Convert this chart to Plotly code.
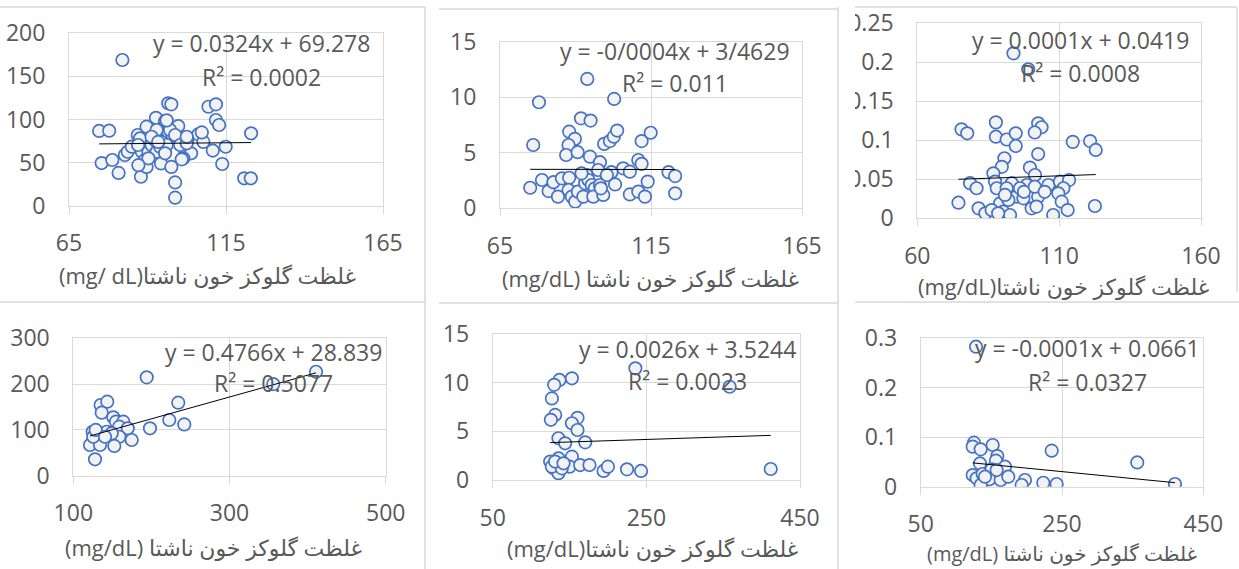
import numpy as np
import plotly.graph_objects as go

W, H = 1239, 569

# ---------------- data ----------------
x1 = [82.0, 74.6, 77.8, 75.4, 78.8, 80.8, 82.8, 83.7, 85, 86.9, 87.6, 89.7, 88.2, 89.2, 87.9, 89.7,
      90.3, 91.3, 92.7, 94, 95.6, 94.7, 95.4, 94.3, 96.6, 97.6, 96.6, 97.9, 99.8, 97.6, 98.8, 98.8,
      101.9, 103.9, 102.8, 106.2, 107.8, 110.8, 109.4, 111.8, 111.8, 112.8, 113.8, 114.9, 123, 120.8,
      122.9, 92.4, 92.9, 94, 96.1, 97.2, 98.8, 100.4, 101.4, 102.5, 90.3, 87, 92.9, 91.3, 107.3, 95.6,
      93.4, 96.1, 100.9, 87.1, 102.5]
y1 = [169, 86.7, 87, 49.5, 53, 38, 58.8, 62.6, 68.5, 82, 78, 91.7, 62.6, 53, 33.6, 45,
      62.6, 70.4, 102, 85, 98, 74, 67, 49, 118.8, 117.6, 86, 82, 92.4, 45, 27, 9.3,
      58.8, 60.8, 78, 82.8, 74, 64, 114.8, 117.6, 99.4, 93.6, 48.4, 68.4, 84, 31.8,
      31.8, 76, 62.6, 68.5, 70.4, 87.8, 82, 70.4, 55, 72.4, 55, 70.4, 87.8, 80, 85, 60.8,
      74, 99, 53.8, 47, 80]

x2 = [93.9, 77.9, 102.8, 91.8, 95, 76, 87.9, 89.8, 87.7, 86.9, 90.7, 94.8, 98.1, 99.5, 101.4, 102.7,
      103.8, 111.9, 114.9, 110.8, 111.9, 105.8, 108, 101.9, 98.1, 96.4, 93.7, 75, 78.9, 81.1, 82.7,
      84.2, 85.5, 87.9, 87.7, 88.8, 89.9, 90.8, 92.6, 93.2, 94.3, 95.4, 96.4, 95.9, 98.1, 99.2, 103.1,
      108, 110.8, 113, 113.9, 120.8, 123, 123, 97.5, 92, 100.4, 98.4]
y2 = [11.65, 9.55, 9.85, 8.1, 7.9, 5.7, 6.9, 6.25, 5.7, 4.8, 5.05, 4.65, 4.15, 5.8, 6.05, 6.45,
      7.0, 6.05, 6.8, 4.35, 4.0, 3.6, 3.3, 3.25, 3.25, 2.7, 3.0, 1.85, 2.55, 1.55, 2.35,
      1.05, 2.7, 2.75, 1.65, 1.05, 0.6, 1.5, 1.05, 2.25, 2.55, 2.1, 1.8, 1.05, 2.1, 1.2, 2.15,
      1.25, 1.5, 1.05, 2.4, 3.25, 2.9, 1.35, 3.45, 3.15, 3.0, 1.8]

x3 = [93.9, 99.1, 75.6, 77.6, 87.7, 87.7, 91.5, 94.7, 94.7, 102.6, 103.8, 101.4, 114.8, 120.9, 122.9,
      102.6, 90.7, 89.8, 86.8, 99.7, 101.5, 78.6, 80.9, 87.4, 88, 93.3, 98.6, 106.2, 110.3, 113.5,
      111.5, 109.7, 74.5, 81.6, 84, 89.2, 90.3, 92.7, 93.3, 95, 97.4, 100.3, 102.6, 107.9, 110.9,
      113, 122.6, 91.5, 96.2, 92.1, 97.6, 101.4, 104.9, 90.9, 86.2, 88.5, 102]
y3 = [0.2115, 0.191, 0.114, 0.109, 0.123, 0.1046, 0.101, 0.109, 0.0927, 0.1218, 0.1167, 0.11, 0.098,
      0.099, 0.0876, 0.0824, 0.077, 0.066, 0.0577, 0.065, 0.0555, 0.045, 0.0385, 0.047, 0.0385,
      0.045, 0.0427, 0.0427, 0.047, 0.049, 0.0385, 0.032, 0.02, 0.0128, 0.0064, 0.0192, 0.0085,
      0.0042, 0.032, 0.0277, 0.0256, 0.0128, 0.0277, 0.0042, 0.0213, 0.0106, 0.0158, 0.0385,
      0.0385, 0.0235, 0.034, 0.0405, 0.034, 0.03, 0.0106, 0.0064, 0.015]

x4 = [194, 410.8, 356, 234.4, 222.9, 242.1, 198.2, 135, 143.5, 136.4, 151.2, 154.7, 164, 158.9, 169.7,
      158.9, 174.8, 152.5, 127.8, 124.8, 130.7, 134.2, 124.8, 121.4, 134.2, 142.8, 149.2, 125.6,
      128.7, 140.6]
y4 = [214.8, 227, 200, 159.4, 121.6, 112, 103.5, 154.4, 161.6, 137.6, 127.5, 118, 118, 107, 103.5,
      85, 78, 65, 35.8, 96, 96, 85, 74, 67, 67, 96, 92.5, 85, 100, 85]

x5 = [235.7, 358.4, 411.9, 153.1, 136.9, 130, 127, 131.3, 125.7, 160.4, 153.1, 160.4, 135.6, 144.3,
      170.4, 124.8, 129.2, 135.6, 135.6, 153.1, 150, 163.9, 176, 194.3, 200, 224.8, 243.1, 127, 140,
      131.3, 142.2]
y5 = [11.5, 9.6, 1.13, 10.47, 10.3, 9.8, 8.4, 6.7, 6.2, 6.4, 5.84, 5.15, 4.3, 3.78, 3.88, 1.9, 1.2,
      2.23, 0.7, 2.4, 1.37, 1.54, 1.54, 0.93, 1.37, 1.1, 0.93, 1.37, 1.2, 1.9, 1.72]

x6 = [128.3, 235.4, 356.5, 409.9, 125.4, 123.6, 134.9, 151.9, 158.4, 156.5, 169.3, 133.9, 123.6, 129.2,
      137.7, 150.5, 147.1, 163.2, 174, 134.9, 197.6, 192.9, 223.5, 242.4, 141, 157.5]
y6 = [0.283, 0.0728, 0.049, 0.0055, 0.089, 0.081, 0.0755, 0.0843, 0.062, 0.0526, 0.0404, 0.047,
      0.0236, 0.017, 0.0257, 0.035, 0.015, 0.0135, 0.0202, 0.0034, 0.0135, 0.0034, 0.008, 0.0055,
      0.0202, 0.0337]

# trendline slope / intercept as drawn
slopes = [0.0324, -0.0004, 0.000124, 0.4766, 0.0026, -0.00014]
intercepts = [69.278, 3.54, 0.0408, 28.839, 3.5244, 0.0655]

equations = ["y = 0.0324x + 69.278", "y = -0/0004x + 3/4629", "y = 0.0001x + 0.0419",
             "y = 0.4766x + 28.839", "y = 0.0026x + 3.5244", "y = -0.0001x + 0.0661"]
r2_labels = ["R² = 0.0002", "R² = 0.011", "R² = 0.0008",
             "R² = 0.5077", "R² = 0.0023", "R² = 0.0327"]

x_ticks = [[65, 115, 165], [65, 115, 165], [60, 110, 160],
           [100, 300, 500], [50, 250, 450], [50, 250, 450]]
y_ticks = [[0, 50, 100, 150, 200], [0, 5, 10, 15], [0, 0.05, 0.1, 0.15, 0.2, 0.25],
           [0, 100, 200, 300], [0, 5, 10, 15], [0, 0.1, 0.2, 0.3]]
y_ticktext = [["0", "50", "100", "150", "200"], ["0", "5", "10", "15"],
              ["0", "0.05", "0.1", "0.15", "0.2", "0.25"],
              ["0", "100", "200", "300"], ["0", "5", "10", "15"], ["0", "0.1", "0.2", "0.3"]]

persian = "غلظت گلوکز خون ناشتا"
x_titles = ["(mg/ dL)" + persian, "(mg/dL) " + persian, "(mg/dL)" + persian,
            "(mg/dL) " + persian, "(mg/dL)" + persian, "(mg/dL) " + persian]

xs_all = [x1, x2, x3, x4, x5, x6]
ys_all = [y1, y2, y3, y4, y5, y6]

# ---------------- layout geometry (pixels) ----------------
boxes = [(69, 383, 33.3, 205.7), (500, 802, 41.7, 208.3), (917.3, 1201, 23.3, 218.3),
         (73.3, 385.7, 338.3, 475.7), (492.7, 800, 334.3, 480), (920.7, 1203.3, 338.3, 486.7)]
eq_pos = [(261, 43, 77), (675, 51, 83), (1080, 40, 73), (273, 352, 383), (687, 349, 381), (1087, 348, 382)]
title_pos = [(207, 275, 22), (650, 278, 22), (1063, 286, 22), (213, 547, 22), (652, 548, 22), (1062, 553, 20)]

def px(v):
    return v / W

def py(v):
    return 1 - v / H

FONT = "Open Sans, DejaVu Sans, sans-serif"
GRID = "#d9d9d9"
TXT = "#595959"

fig = go.Figure()
layout = dict(width=W, height=H, margin=dict(l=0, r=0, t=0, b=0, autoexpand=False),
              paper_bgcolor="white", plot_bgcolor="white", showlegend=False,
              font=dict(family=FONT, color=TXT))
annotations = []

for i in range(6):
    n = "" if i == 0 else str(i + 1)
    xs = np.array(xs_all[i], dtype=float)
    ys = np.array(ys_all[i], dtype=float)
    fig.add_trace(go.Scatter(
        x=xs, y=ys, mode="markers", xaxis="x" + n, yaxis="y" + n,
        marker=dict(size=12.5, color="#f2f2f2", line=dict(color="#4472C4", width=1.7)),
        hoverinfo="skip"))
    tx = np.array([xs.min(), xs.max()])
    ty = intercepts[i] + slopes[i] * tx
    fig.add_trace(go.Scatter(x=tx, y=ty, mode="lines", xaxis="x" + n, yaxis="y" + n,
                             line=dict(color="black", width=1), hoverinfo="skip"))
    x0, x1p, yt, yb = boxes[i]
    xt = x_ticks[i]
    yv = y_ticks[i]
    layout["xaxis" + n] = dict(
        domain=[px(x0), px(x1p)], range=[xt[0], xt[-1]], tickvals=xt,
        ticktext=[str(v) for v in xt], anchor="y" + n, automargin=False,
        showgrid=True, gridcolor=GRID, gridwidth=1, zeroline=False,
        showline=True, linecolor=GRID, linewidth=1, mirror=True,
        ticks="outside", ticklen=7, tickcolor=GRID, tickwidth=1,
        ticklabelstandoff=10,
        tickfont=dict(size=23, color=TXT, family=FONT))
    layout["yaxis" + n] = dict(
        domain=[py(yb), py(yt)], range=[yv[0], yv[-1]], tickvals=yv, ticktext=y_ticktext[i],
        anchor="x" + n, automargin=False, showgrid=True, gridcolor=GRID, gridwidth=1, zeroline=False,
        showline=True, linecolor=GRID, linewidth=1, mirror=True, ticks="",
        ticklabelstandoff=18,
        tickfont=dict(size=23, color=TXT, family=FONT))
    ex, ey1, ey2 = eq_pos[i]
    annotations.append(dict(text=equations[i], x=px(ex), y=py(ey1), xref="paper", yref="paper",
                            xanchor="center", yanchor="middle", showarrow=False,
                            font=dict(size=23, color=TXT, family=FONT)))
    annotations.append(dict(text=r2_labels[i], x=px(ex), y=py(ey2), xref="paper", yref="paper",
                            xanchor="center", yanchor="middle", showarrow=False,
                            font=dict(size=23, color=TXT, family=FONT)))
    tx_, ty_, ts_ = title_pos[i]
    annotations.append(dict(text=x_titles[i], x=px(tx_), y=py(ty_), xref="paper", yref="paper",
                            xanchor="center", yanchor="middle", showarrow=False,
                            font=dict(size=ts_, color=TXT, family=FONT)))

shapes = []
# mask for the cut-off labels of the third chart
shapes.append(dict(type="rect", xref="paper", yref="paper", x0=px(839.5), x1=px(855),
                   y0=py(292), y1=py(10), fillcolor="white", line=dict(width=0), layer="above"))
frame_lines = [((0, 7), (425, 7)), ((439, 9), (838, 9)), ((855, 7), (1237, 7)),
               ((0, 302), (425, 302)), ((439, 303), (838, 303)), ((855, 302), (1239, 302)),
               ((425, 7), (425, 569)), ((838, 7), (838, 569)), ((1237, 7), (1237, 292))]
for (a, b) in frame_lines:
    shapes.append(dict(type="line", xref="paper", yref="paper", x0=px(a[0]), y0=py(a[1]),
                       x1=px(b[0]), y1=py(b[1]), line=dict(color=GRID, width=1.5), layer="above"))

layout["annotations"] = annotations
layout["shapes"] = shapes
fig.update_layout(**layout)
fig.write_html("out.html", config={"displayModeBar": False, "staticPlot": True},
               post_script="document.body.style.margin='0';document.body.style.overflow='hidden';")
